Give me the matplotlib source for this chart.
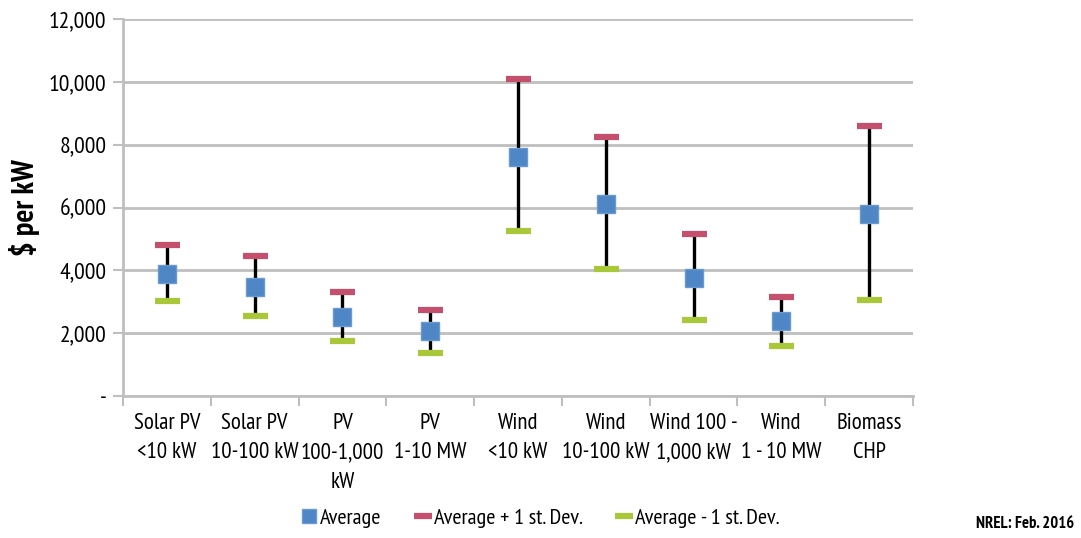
import matplotlib
matplotlib.use("Agg")
import matplotlib.pyplot as plt
from matplotlib.ticker import FuncFormatter

plt.rcParams['font.family'] = ['PT Sans Narrow', 'Roboto Condensed', 'DejaVu Sans']

categories = ["Solar PV\n<10 kW", "Solar PV\n10-100 kW", "PV\n100-1,000\nkW", "PV\n1-10 MW",
              "Wind\n<10 kW", "Wind\n10-100 kW", "Wind 100 -\n1,000 kW", "Wind\n1 - 10 MW",
              "Biomass\nCHP"]
average = [3880, 3470, 2510, 2070, 7620, 6120, 3750, 2390, 5800]
avg_plus = [4820, 4450, 3300, 2740, 10100, 8250, 5150, 3160, 8580]
avg_minus = [3020, 2560, 1740, 1380, 5240, 4040, 2430, 1590, 3060]

blue = "#4F86C6"
pink = "#C4506E"
green = "#A8C83A"
grid = "#BFBFBF"

fig = plt.figure(figsize=(10.81, 5.38), dpi=100)
ax = fig.add_axes([0.1138, 0.264, 0.7308, 0.7006])

x = list(range(len(categories)))

# vertical range lines
ax.vlines(x, avg_minus, avg_plus, color="black", linewidth=2.4, zorder=3)
ax.plot(x, avg_plus, linestyle="none", marker="_", markersize=18, markeredgewidth=4.5,
        color=pink, label="Average + 1 st. Dev.", zorder=4)
ax.plot(x, avg_minus, linestyle="none", marker="_", markersize=18, markeredgewidth=4.5,
        color=green, label="Average - 1 st. Dev.", zorder=4)
ax.plot(x, average, linestyle="none", marker="s", markersize=13, color=blue,
        markeredgecolor="#6A9AD0", markeredgewidth=1, label="Average", zorder=5)

ax.set_xlim(-0.5, len(categories) - 0.5)
ax.set_ylim(0, 12000)
ax.set_yticks(range(0, 12001, 2000))
ax.yaxis.set_major_formatter(FuncFormatter(lambda v, p: "-" if v == 0 else f"{int(v):,}"))
ax.yaxis.grid(True, color=grid, linewidth=2)
ax.set_axisbelow(True)

ax.set_xticks(x)
ax.set_xticklabels(categories, fontsize=16.5, linespacing=1.55)
ax.set_xticks([i + 0.5 for i in range(-1, len(categories))], minor=True)
ax.tick_params(axis="x", which="major", length=0, pad=12)
ax.tick_params(axis="x", which="minor", length=7, width=1.5, color=grid)
ax.tick_params(axis="y", length=7, width=1.5, color=grid, labelsize=17, pad=5)

for side in ["top", "right"]:
    ax.spines[side].set_visible(False)
for side in ["left", "bottom"]:
    ax.spines[side].set_color(grid)
    ax.spines[side].set_linewidth(2)

ax.set_ylabel("$ per kW", fontsize=22, fontweight="bold", labelpad=6)

handles, labels = ax.get_legend_handles_labels()
order = [2, 0, 1]
fig.legend([handles[i] for i in order], [labels[i] for i in order], loc="center",
           bbox_to_anchor=(0.5, 0.037), ncol=3, frameon=False, fontsize=16,
           handlelength=0.7, handletextpad=0.15, columnspacing=1.5, markerscale=0.75)

fig.text(0.994, 0.012, "NREL: Feb. 2016", ha="right", va="bottom", fontsize=12, fontweight="bold")

fig.savefig("out.png", dpi=100)
